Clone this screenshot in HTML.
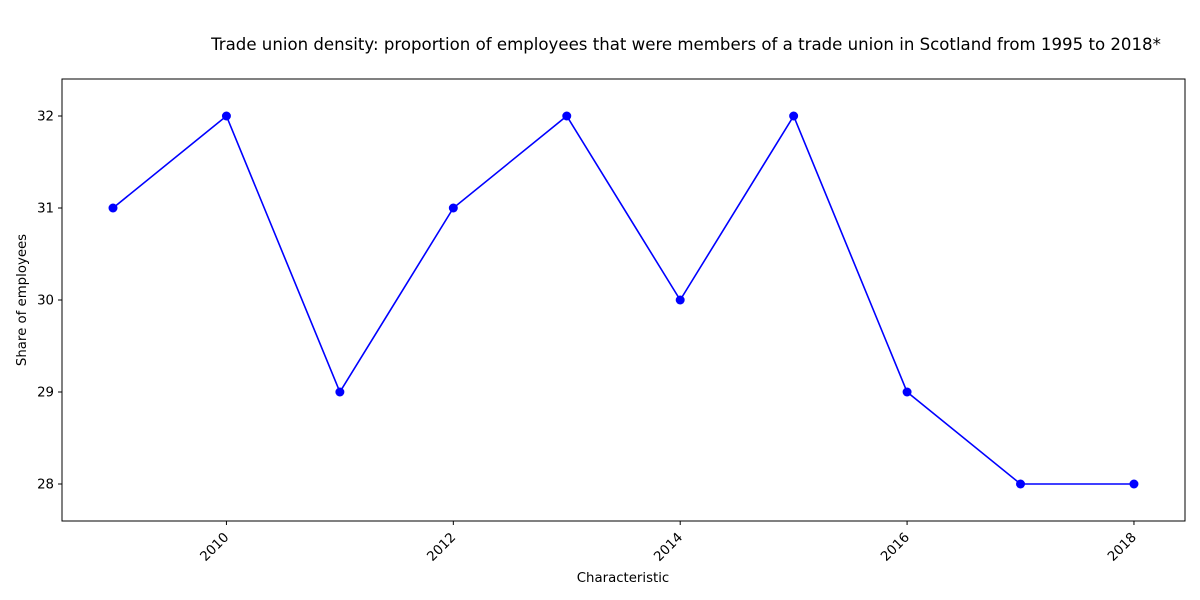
<!DOCTYPE html>
<html><head><meta charset="utf-8"><style>body{margin:0;background:#fff}svg{display:block;font-family:"DejaVu Sans","Liberation Sans",sans-serif}</style></head>
<body>
<svg id="chart" width="1200" height="600">
<rect x="0" y="0" width="1200" height="600" fill="#fff"/>
<text x="686" y="50" text-anchor="middle" font-size="16.6">Trade union density: proportion of employees that were members of a trade union in Scotland from 1995 to 2018*</text>
<rect x="62" y="79" width="1123" height="442" fill="none" stroke="#000" stroke-width="1"/>
<g id="xticks"></g>
<g id="yticks"></g>
<text x="623" y="582" text-anchor="middle" font-size="13.3">Characteristic</text>
<text transform="translate(26,300) rotate(-90)" text-anchor="middle" font-size="13.3">Share of employees</text>
<g id="series"></g>
</svg>
<script>
const years = [2009,2010,2011,2012,2013,2014,2015,2016,2017,2018];
const values = [31,32,29,31,32,30,32,29,28,28];
const xTickLabels = [2010,2012,2014,2016,2018];
const yTickLabels = [28,29,30,31,32];
const NS = "http://www.w3.org/2000/svg";
function xs(v){return 113 + (v-2009)*113.44;}
function ys(v){return 484 - (v-28)*92;}
function mk(t,a,p){const e=document.createElementNS(NS,t);for(const k in a)e.setAttribute(k,a[k]);p.appendChild(e);return e;}
const xg=document.getElementById('xticks'), yg=document.getElementById('yticks'), sg=document.getElementById('series');
xTickLabels.forEach(v=>{
  const x=xs(v);
  const l=mk('line',{x1:x,x2:x,y1:521,y2:525,stroke:'#000'},xg);
  
  
  const tx=x+3, ty=538;
  const t=mk('text',{x:tx,y:ty,'font-size':13.3,'text-anchor':'end',transform:`rotate(-45 ${tx} ${ty})`},xg);
  t.textContent=v;
  
  
});
yTickLabels.forEach(v=>{
  const y=ys(v);
  const l=mk('line',{x1:58,x2:62,y1:y,y2:y,stroke:'#000'},yg);
  
  
  const t=mk('text',{x:54,y:y+4.5,'font-size':13.3,'text-anchor':'end'},yg);
  t.textContent=v;
  
  
});
const pts=years.map((y,i)=>xs(y)+','+ys(values[i])).join(' ');
const pl=mk('polyline',{points:pts,fill:'none',stroke:'#0000ff','stroke-width':1.6},sg);


years.forEach((y,i)=>{
  const c=mk('circle',{cx:xs(y),cy:ys(values[i]),r:4.5,fill:'#0000ff'},sg);
  
  
});
</script>
</body></html>
